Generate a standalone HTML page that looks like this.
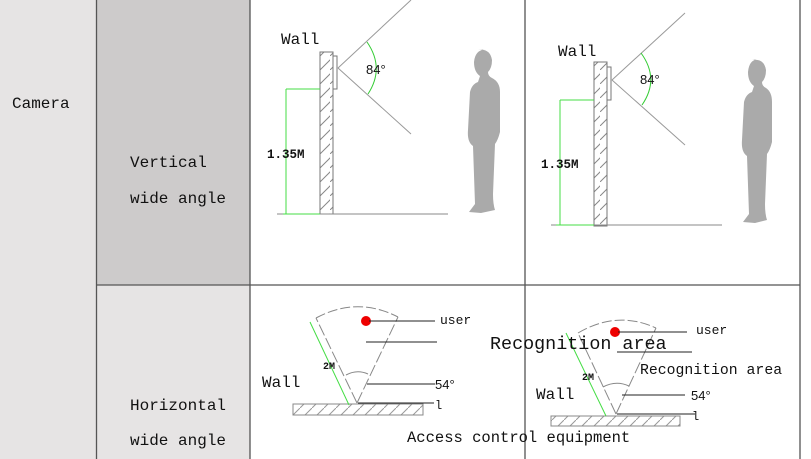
<!DOCTYPE html>
<html><head><meta charset="utf-8"><style>
html,body{margin:0;padding:0;background:#fff;}
svg{display:block;}
text{font-family:"Liberation Mono","Noto Sans CJK SC",monospace;fill:#111;}
.s{font-family:"Liberation Sans",sans-serif;}
</style></head><body>
<svg width="811" height="459" viewBox="0 0 811 459" xmlns="http://www.w3.org/2000/svg">
<defs>
<pattern id="h" width="10" height="14" patternUnits="userSpaceOnUse">
<line x1="0" y1="14" x2="14" y2="0" stroke="#888" stroke-width="1"/>
</pattern>
<pattern id="h2" width="12" height="12" patternUnits="userSpaceOnUse">
<line x1="0" y1="12" x2="12" y2="0" stroke="#999" stroke-width="1"/>
</pattern>
</defs>
<rect x="0" y="0" width="811" height="459" fill="#fff"/>
<rect x="0" y="0" width="96" height="459" fill="#e6e4e4"/>
<rect x="96" y="0" width="154" height="285" fill="#cdcbcb"/>
<rect x="96" y="285" width="154" height="174" fill="#e6e4e4"/>
<g stroke="#555" stroke-width="1.3">
<line x1="96.5" y1="0" x2="96.5" y2="459"/>
<line x1="250" y1="0" x2="250" y2="459"/>
<line x1="525" y1="0" x2="525" y2="459"/>
<line x1="800" y1="0" x2="800" y2="459"/>
<line x1="96" y1="285" x2="800" y2="285"/>
</g>
<text x="12" y="108" font-size="16">Camera</text>
<text x="130" y="167" font-size="16">Vertical</text>
<text x="130" y="203" font-size="16">wide angle</text>
<text x="130" y="410" font-size="16">Horizontal</text>
<text x="130" y="445" font-size="16">wide angle</text>

<!-- Panel 1 vertical -->
<g>
<text x="281" y="44" font-size="16">Wall</text>
<rect x="320" y="52" width="13" height="162" fill="url(#h)" stroke="#777"/>
<rect x="333" y="56" width="4" height="33" fill="#fff" stroke="#777"/>
<line x1="338" y1="68" x2="411" y2="0" stroke="#999"/>
<line x1="338" y1="68" x2="411" y2="134" stroke="#999"/>
<line x1="277" y1="214" x2="448" y2="214" stroke="#888"/>
<path d="M367 42 Q385 68 368 94" fill="none" stroke="#3c3"/>
<text x="366" y="74" font-size="13" class="s">84°</text>
<g stroke="#4d4"><line x1="286" y1="89" x2="286" y2="214"/><line x1="286" y1="89" x2="320" y2="89"/><line x1="283" y1="214" x2="320" y2="214"/></g>
<text x="267" y="158" font-size="12.5" font-weight="bold">1.35M</text>
<path d="M478 50 q12 -2 14 10 q0 8 -4 12 q0 4 4 6 q8 4 8 14 l0 40 q-2 8 -5 12 l-2 50 q0 10 2 16 l-14 3 l-12 -1 l6 -8 l-2 -58 q-6 -4 -5 -16 l2 -38 q2 -8 8 -10 l2 -6 q-6 -4 -6 -14 q1 -12 12 -13z" fill="#aaa"/>
</g>

<!-- Panel 2 vertical -->
<g>
<text x="558" y="56" font-size="16">Wall</text>
<rect x="594" y="62" width="13" height="164" fill="url(#h)" stroke="#777"/>
<rect x="607" y="67" width="4" height="33" fill="#fff" stroke="#777"/>
<line x1="612" y1="80" x2="685" y2="13" stroke="#999"/>
<line x1="612" y1="80" x2="685" y2="145" stroke="#999"/>
<line x1="551" y1="225" x2="722" y2="225" stroke="#888"/>
<path d="M641 53 Q660 79 642 105" fill="none" stroke="#3c3"/>
<text x="640" y="84" font-size="13" class="s">84°</text>
<g stroke="#4d4"><line x1="560" y1="100" x2="560" y2="225"/><line x1="560" y1="100" x2="594" y2="100"/><line x1="556" y1="225" x2="594" y2="225"/></g>
<text x="541" y="168" font-size="12.5" font-weight="bold">1.35M</text>
<path d="M752 60 q12 -2 14 10 q0 8 -4 12 q0 4 4 6 q6 4 6 14 l0 40 q-2 8 -5 12 l-2 50 q0 10 2 16 l-12 3 l-12 -1 l6 -8 l-2 -58 q-6 -4 -5 -16 l2 -38 q2 -8 8 -10 l2 -6 q-6 -4 -6 -14 q1 -12 10 -13z" fill="#aaa"/>
</g>

<!-- Panel 1 horizontal -->
<g>
<path d="M316 318 Q357 296 398 317" fill="none" stroke="#888" stroke-dasharray="10 3"/>
<line x1="357" y1="403" x2="316" y2="318" stroke="#888" stroke-dasharray="12 3"/>
<line x1="357" y1="403" x2="398" y2="317" stroke="#888" stroke-dasharray="12 3"/>
<path d="M346 375 Q357 369 368 374" fill="none" stroke="#888"/>
<circle cx="366" cy="321" r="5" fill="#e00"/>
<g stroke="#222"><line x1="369" y1="321" x2="435" y2="321"/><line x1="366" y1="342" x2="437" y2="342"/><line x1="367" y1="384" x2="435" y2="384"/><line x1="358" y1="403" x2="434" y2="403"/></g>
<text x="440" y="324" font-size="13">user</text>
<text x="435" y="389" font-size="13" class="s">54°</text>
<text x="435" y="409" font-size="12">l</text>
<rect x="293" y="404" width="130" height="11" fill="url(#h2)" stroke="#888"/>
<line x1="310" y1="322" x2="349" y2="405" stroke="#4d4"/>
<text x="323" y="369" font-size="10" font-weight="bold">2M</text>
<text x="262" y="387" font-size="16">Wall</text>
</g>

<!-- Panel 2 horizontal -->
<g>
<path d="M578 333 Q617 310 656 328" fill="none" stroke="#888" stroke-dasharray="10 3"/>
<line x1="616" y1="414" x2="578" y2="333" stroke="#888" stroke-dasharray="12 3"/>
<line x1="616" y1="414" x2="656" y2="328" stroke="#888" stroke-dasharray="12 3"/>
<path d="M603 387 Q616 380 629 386" fill="none" stroke="#888"/>
<circle cx="615" cy="332" r="5" fill="#e00"/>
<g stroke="#222"><line x1="618" y1="332" x2="687" y2="332"/><line x1="617" y1="352" x2="692" y2="352"/><line x1="622" y1="395" x2="685" y2="395"/><line x1="617" y1="414" x2="695" y2="414"/></g>
<text x="696" y="334" font-size="13">user</text>
<text x="691" y="400" font-size="13" class="s">54°</text>
<text x="692" y="420" font-size="12">l</text>
<rect x="551" y="416" width="129" height="10" fill="url(#h2)" stroke="#888"/>
<line x1="566" y1="333" x2="606" y2="416" stroke="#4d4"/>
<text x="582" y="380" font-size="10" font-weight="bold">2M</text>
<text x="536" y="399" font-size="16">Wall</text>
<text x="640" y="374" font-size="14.8">Recognition area</text>
</g>
<text x="490" y="349" font-size="18.4">Recognition area</text>
<text x="407" y="442" font-size="15.5">Access control equipment</text>
</svg>
</body></html>
